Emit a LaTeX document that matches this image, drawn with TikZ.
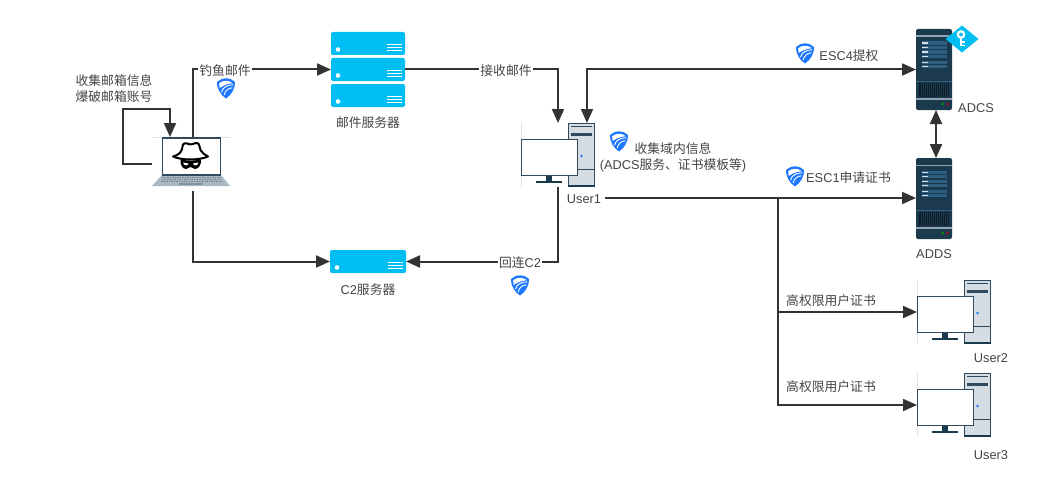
\documentclass[tikz,border=0pt]{standalone}
\usepackage{fontspec}
\setmainfont{Liberation Sans}
\newfontfamily\cjk{Noto Sans CJK SC}
\newcommand{\zh}[1]{{\cjk #1}}
\usetikzlibrary{arrows.meta,positioning,calc}
\definecolor{skyblue}{HTML}{00BEF2}
\definecolor{wirecol}{HTML}{333333}
\definecolor{textcol}{HTML}{444444}
\definecolor{navy}{HTML}{1C3A4E}
\definecolor{slate}{HTML}{2F4A5F}
\definecolor{towercol}{HTML}{D5DDE3}
\definecolor{shieldcol}{HTML}{1E78FF}
\definecolor{panelcol}{HTML}{2C5F82}
\definecolor{railcol}{HTML}{8FA3B0}
\definecolor{basecol}{HTML}{AAB8C2}
\tikzset{
	rack/.pic={
		\fill[skyblue,rounded corners=2pt] (0,0) rectangle (#1,23);
		\fill[white] (7,17.5) circle (2.3pt);
		\foreach \yy in {12.5,15.5,18.5} {
			\draw[white,line width=0.7pt] (#1-18,\yy) -- (#1-3,\yy);
		}
	},
	tower/.pic={
		\fill[navy,rounded corners=2pt] (0,0) rectangle (36,81);
		\fill[railcol] (0,6.5) rectangle (36,7.7);
		\fill[railcol] (0,69) rectangle (36,70.5);
		\fill[panelcol] (0,52) rectangle (36,53);
		\fill[navy!50!black] (3,54) rectangle (33,68);
		\foreach \xx in {5,7,...,31} {
			\draw[navy,line width=0.5pt] (\xx,54) -- (\xx,68);
		}
		\foreach \yy in {12.5,17,21.5,26,32,36} {
			\fill[panelcol] (5.5,\yy) rectangle (31,\yy+3.2);
			\fill[white!80!panelcol] (6,\yy+1) rectangle (12,\yy+2.2);
		}
		\fill[green!60!black] (26.7,75) circle (1.4pt);
		\fill[red!70!black] (31.5,75) circle (1.4pt);
	},
	desktop/.pic={
		\draw[black!12,line width=0.6pt] (0,0) -- (0,64);
		\draw[slate,fill=towercol,line width=1pt] (47,0) rectangle (73.5,63);
		\draw[slate,line width=1pt] (50,3.5) -- (71,3.5);
		\fill[slate] (50,9.5) rectangle (71,12.5);
		\draw[slate,line width=0.7pt] (47,46) -- (73.5,46);
		\fill[navy] (47,62) rectangle (73.5,64);
		\fill[shieldcol] (60.5,33) circle (1.4pt);
		\fill[navy] (25,52) rectangle (31,58);
		\fill[navy] (15,58) rectangle (41,59.5);
		\draw[slate,fill=white,line width=1pt] (0,16) rectangle (56,52);
	},
	notebook/.pic={
		\draw[black!12,line width=0.6pt] (0,0) -- (78,0);
		\fill[basecol] (10,38) -- (0,49) -- (78,49) -- (69,38) -- cycle;
		\foreach \yy in {40,42,44} {
			\draw[slate!70,line width=0.6pt,dash pattern=on 1.5pt off 1pt] (11-\yy/4+9,\yy) -- (68+\yy/4-9,\yy);
		}
		\fill[slate!60] (27,46) rectangle (51,47.5);
		\draw[slate,fill=white,line width=1.6pt] (10.5,0.8) rectangle (68.5,38);
		\draw[black,fill=white,line width=2pt,line join=round]
			(21,19.5) .. controls (26,18) and (29,16) .. (30,12)
			-- (31,7.5) .. controls (33,5) and (36,7) .. (38.5,7.5)
			.. controls (42,7) and (45,4.5) .. (47,7.5)
			-- (48.5,13) .. controls (50,16) and (53,18) .. (56,19.5)
			.. controls (47,23.5) and (30,23.5) .. (21,19.5) -- cycle;
		\fill[black] (28.5,22.5) .. controls (36,24) and (42,24) .. (49,22.5)
			.. controls (49.5,27) and (47,32) .. (43,32)
			.. controls (41,32) and (40,30) .. (38.5,30)
			.. controls (37,30) and (36,32) .. (34,32)
			.. controls (30,32) and (28,27) .. (28.5,22.5) -- cycle;
		\fill[white] (31,25.5) -- (36.5,26.5) .. controls (36,29) and (32,29.5) .. (31,25.5) -- cycle;
		\fill[white] (46.5,25.5) -- (41,26.5) .. controls (41.5,29) and (45.5,29.5) .. (46.5,25.5) -- cycle;
	},
	badge/.pic={
		\fill[shieldcol] (-9,-6) .. controls (-4,-11) and (4,-11) .. (9,-6)
			.. controls (9,2) and (5,7) .. (0,10.5)
			.. controls (-5,7) and (-9,2) .. (-9,-6) -- cycle;
		\fill[white] (-6.8,-4.8) .. controls (-3,-8) and (3,-8) .. (6.8,-4.8)
			.. controls (0,-4.5) and (-5,-1) .. (-6.3,0) -- cycle;
		\draw[white,line width=0.9pt] (-4.6,4.2) .. controls (-3,-1) and (1,-3) .. (7.2,-3.2);
		\draw[white,line width=0.9pt] (-1.8,7) .. controls (-1,3) and (2,0) .. (6.4,-0.2);
	},
	keymark/.pic={
		\fill[skyblue] (-16.5,0) -- (0,-13.5) -- (16.5,0) -- (0,13.5) -- cycle;
		\draw[white,line width=2.2pt] (-1,-4.5) circle (3.2pt);
		\draw[white,line width=2.4pt] (-1,-1) -- (-1,7.5);
		\draw[white,line width=1.6pt] (-1,3) -- (2.5,3);
		\draw[white,line width=1.6pt] (-1,6.5) -- (2.5,6.5);
	}
}
\begin{document}
\begin{tikzpicture}[x=1pt,y=-1pt,
	iconbox/.style={inner sep=0pt,outer sep=0pt,anchor=north west},
	txt/.style={text=textcol,font=\fontsize{12.8}{16}\selectfont,inner sep=1pt,align=center},
	lbl/.style={txt,fill=white},
	flow/.style={draw=wirecol,line width=2pt,-{Triangle[length=14pt,width=12pt]}},
	both/.style={draw=wirecol,line width=2pt,{Triangle[length=14pt,width=12pt]}-{Triangle[length=14pt,width=12pt]}}]
	\useasboundingbox (0,0) rectangle (1060,503);
	\node[iconbox,minimum width=78pt,minimum height=54pt] (hacker) at (152,137) {};
	\node[iconbox,minimum width=74pt,minimum height=75pt] (mail) at (331,32) {};
	\node[iconbox,minimum width=76pt,minimum height=25pt] (c2) at (330,249) {};
	\node[iconbox,minimum width=74pt,minimum height=64pt] (user1) at (521,123) {};
	\node[iconbox,minimum width=36pt,minimum height=81pt] (adcs) at (916,29) {};
	\node[iconbox,minimum width=36pt,minimum height=80pt] (adds) at (916,158) {};
	\node[iconbox,minimum width=75pt,minimum height=64pt] (user2) at (917,280) {};
	\node[iconbox,minimum width=75pt,minimum height=64pt] (user3) at (917,373) {};
	\pic at (152,137) {notebook};
	\pic at (331,32) {rack=74};
	\pic at (331,58) {rack=74};
	\pic at (331,84) {rack=74};
	\pic at (330,250) {rack=76};
	\pic at (521,123) {desktop};
	\pic at (916,29) {tower};
	\pic at (916,158) {tower};
	\pic at (962,39) {keymark};
	\pic at (917,280) {desktop};
	\pic at (917,373) {desktop};
	\node[txt] (harvest) at (114,89) {\zh{收集邮箱信息}\\\zh{爆破邮箱账号}};
	\node[txt] (mailname) at (368,123) {\zh{邮件服务器}};
	\node[txt] (c2name) at (368,290) {C2\zh{服务器}};
	\node[txt] (user1name) at (584,199) {User1};
	\node[txt] (recon) at (673,157) {\zh{收集域内信息}\\(ADCS\zh{服务、证书模板等})};
	\node[txt] (adcsname) at (976,108) {ADCS};
	\node[txt] (addsname) at (934,254) {ADDS};
	\node[txt] (user2name) at (991,358) {User2};
	\node[txt] (user3name) at (991,455) {User3};
	\coordinate (loopturn) at (123,109);
	\coordinate (branch) at (778,198);
	\draw[flow] (hacker.west) -| (loopturn) -| ([xshift=-21pt]hacker.north);
	\draw[flow] ([xshift=2pt]hacker.north) |- (mail.west);
	\draw[flow] ([xshift=2pt]hacker.south) |- (c2.west);
	\draw[flow] (mail.east) -| (user1.north);
	\draw[flow] (user1.south) |- (c2.east);
	\draw[both] ([xshift=29pt]user1.north) |- (adcs.west);
	\draw[flow] ([xshift=3pt,yshift=1pt]user1name.east) -- (adds.west);
	\draw[both] ([xshift=2pt]adcs.south) -- ([xshift=2pt]adds.north);
	\draw[flow] (branch) |- (user2.west);
	\draw[flow] (branch) |- (user3.west);
	\node[lbl] (phish) at (225,71) {\zh{钓鱼邮件}};
	\node[lbl] (recv) at (506,71) {\zh{接收邮件}};
	\node[lbl] (back) at (520,263) {\zh{回连}C2};
	\node[txt] (esc4) at (849,56) {ESC4\zh{提权}};
	\node[txt] (esc1) at (848.5,178) {ESC1\zh{申请证书}};
	\node[txt] (certa) at (831,301) {\zh{高权限用户证书}};
	\node[txt] (certb) at (831,387) {\zh{高权限用户证书}};
	\pic at (226,88) {badge};
	\pic at (619,141) {badge};
	\pic at (520,285) {badge};
	\pic at (805,53) {badge};
	\pic at (795,176) {badge};
\end{tikzpicture}
\end{document}
